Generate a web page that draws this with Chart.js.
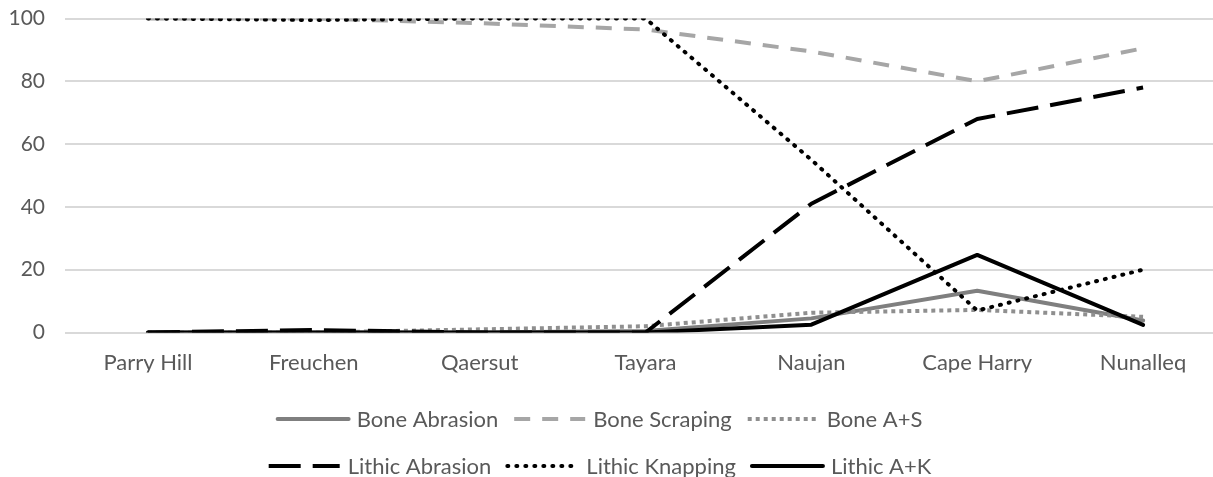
<!DOCTYPE html>
<html>
<head>
<meta charset="utf-8">
<script src="https://cdn.jsdelivr.net/npm/chart.js@4.4.1/dist/chart.umd.min.js"></script>
<style>
  html, body { margin: 0; padding: 0; background: #ffffff; overflow: hidden; }
  #wrap { width: 1230px; height: 477px; }
</style>
</head>
<body>
<div id="wrap"><canvas id="c" width="1230" height="477"></canvas></div>
<script>
const categories = ['Parry Hill', 'Freuchen', 'Qaersut', 'Tayara', 'Naujan', 'Cape Harry', 'Nunalleq'];
const yTicks = [0, 20, 40, 60, 80, 100];

const seriesNames = ['Bone Abrasion', 'Bone Scraping', 'Bone A+S', 'Lithic Abrasion', 'Lithic Knapping', 'Lithic A+K'];
const boneAbrasion   = [0, 0, 0, 0.5, 4.5, 13.3, 3.8];
const boneScraping   = [100, 100, 98.5, 96.5, 89.5, 80, 90.5];
const boneAS         = [0, 0, 1, 2, 6.3, 7.2, 5];
const lithicAbrasion = [0, 0.8, 0, 0, 41, 68, 78];
const lithicKnapping = [100, 99.5, 100, 100, 55, 7, 20];
const lithicAK       = [0, 0, 0, 0, 2.5, 24.7, 2.4];

const TEXT = '#595959';
const FONT = 'Lato, "Open Sans", sans-serif';

const styles = [
  { color: '#7f7f7f', dash: [], cap: 'round' },
  { color: '#a6a6a6', dash: [16, 12], cap: 'butt' },
  { color: '#8f8f8f', dash: [4, 4], cap: 'butt' },
  { color: '#000000', dash: [32, 12], cap: 'butt' },
  { color: '#000000', dash: [1, 8], cap: 'round' },
  { color: '#000000', dash: [], cap: 'round' }
];
const values = [boneAbrasion, boneScraping, boneAS, lithicAbrasion, lithicKnapping, lithicAK];

const datasets = values.map((v, i) => ({
  label: seriesNames[i],
  data: v,
  borderColor: styles[i].color,
  backgroundColor: styles[i].color,
  borderWidth: 4,
  borderDash: styles[i].dash,
  borderCapStyle: styles[i].cap,
  borderJoinStyle: 'round',
  pointRadius: 0,
  pointHoverRadius: 0,
  tension: 0,
  fill: false,
  order: values.length - i
}));

const twoRowLegend = {
  id: 'twoRowLegend',
  afterDraw(chart, args, opts) {
    const ctx = chart.ctx;
    ctx.save();
    ctx.font = opts.fontSize + 'px ' + FONT;
    ctx.textBaseline = 'middle';
    ctx.textAlign = 'left';
    opts.rows.forEach((row, r) => {
      const y = opts.rowY[r];
      const widths = row.map(i => opts.sample + opts.gap + ctx.measureText(chart.data.datasets[i].label).width);
      const total = widths.reduce((a, b) => a + b, 0) + opts.itemGap * (row.length - 1);
      let x = opts.centerX - total / 2;
      row.forEach((i, k) => {
        const ds = chart.data.datasets[i];
        ctx.beginPath();
        ctx.strokeStyle = ds.borderColor;
        ctx.lineWidth = ds.borderWidth;
        ctx.lineCap = ds.borderCapStyle;
        ctx.setLineDash(ds.borderDash);
        ctx.moveTo(x, y);
        ctx.lineTo(x + opts.sample, y);
        ctx.stroke();
        ctx.setLineDash([]);
        ctx.fillStyle = TEXT;
        ctx.fillText(ds.label, x + opts.sample + opts.gap, y + 1);
        x += widths[k] + opts.itemGap;
      });
    });
    ctx.restore();
  }
};

new Chart(document.getElementById('c'), {
  type: 'line',
  data: { labels: categories, datasets: datasets },
  plugins: [twoRowLegend],
  options: {
    responsive: false,
    animation: false,
    devicePixelRatio: 1,
    layout: { autoPadding: false, padding: { left: 0, top: 18.5, right: 4, bottom: 104.5 } },
    plugins: {
      legend: { display: false },
      tooltip: { enabled: false },
      twoRowLegend: {
        rows: [[0, 1, 2], [3, 4, 5]],
        rowY: [419, 466],
        centerX: 600,
        sample: 71,
        gap: 8,
        itemGap: 16,
        fontSize: 22
      }
    },
    scales: {
      x: {
        type: 'category',
        offset: true,
        grid: { display: false, drawTicks: false },
        border: { display: false },
        ticks: { color: TEXT, font: { family: FONT, size: 22 }, padding: 17, maxRotation: 0, autoSkip: false },
        afterFit: s => { s.height = 40; s.paddingLeft = 0; s.paddingRight = 0; }
      },
      y: {
        min: 0,
        max: 100,
        afterBuildTicks: s => { s.ticks = yTicks.map(v => ({ value: v })); },
        grid: { color: '#d9d9d9', lineWidth: 2, drawTicks: false },
        border: { display: false },
        ticks: { color: TEXT, font: { family: FONT, size: 21 }, padding: 20 },
        afterFit: s => { s.width = 65; s.paddingTop = 0; s.paddingBottom = 0; }
      }
    }
  }
});
</script>
</body>
</html>
